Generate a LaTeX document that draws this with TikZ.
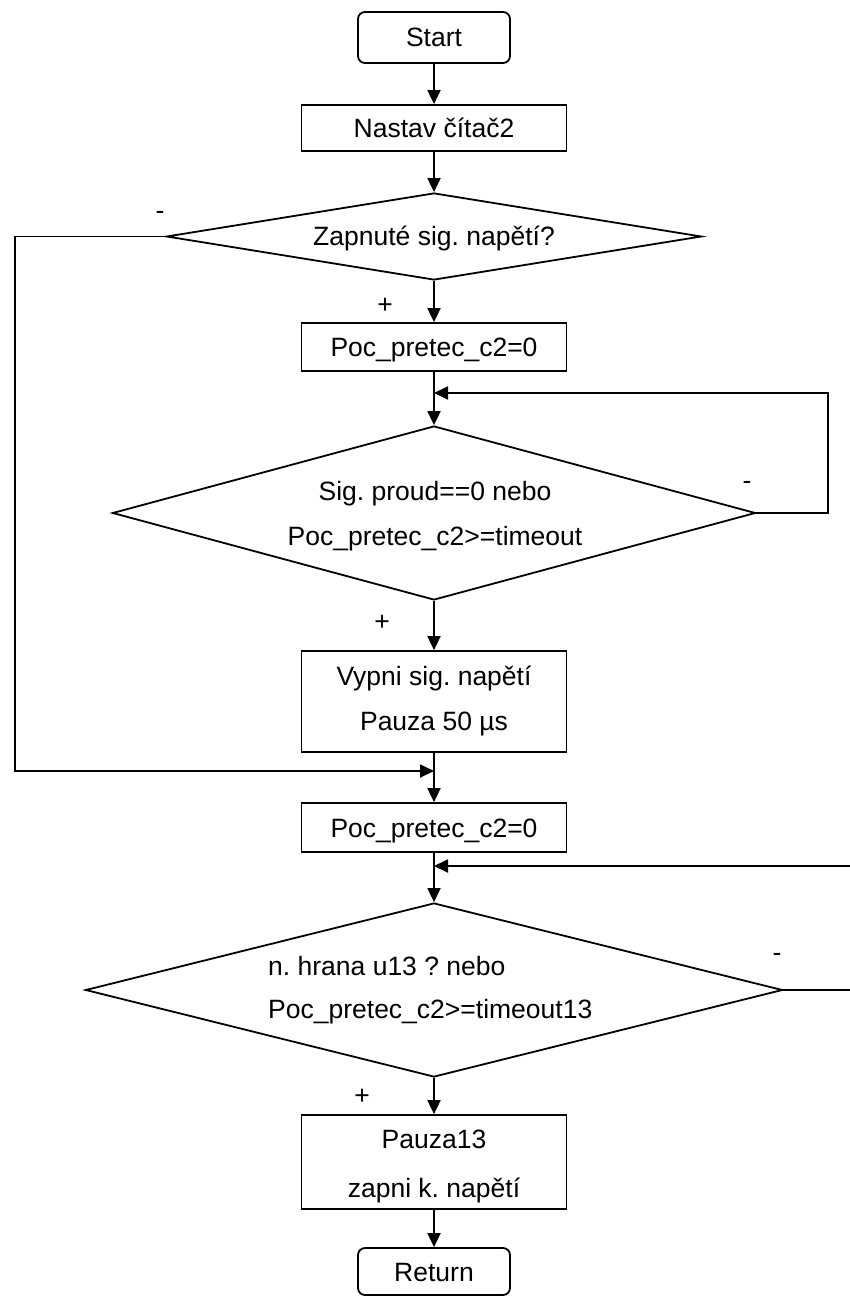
\documentclass[tikz,border=0pt]{standalone}
\usepackage{fontspec}
\setmainfont{Liberation Sans}
\usetikzlibrary{shapes.geometric,arrows.meta}
\begin{document}
\begin{tikzpicture}[x=1pt,y=-1pt,
  txt/.style={font=\fontsize{26.5}{30}\selectfont\frenchspacing, inner sep=0pt},
  boxed/.style={txt, draw, line width=1.8pt, text height=19pt, text depth=0pt},
  proc/.style={boxed, rectangle, minimum width=265pt},
  term/.style={boxed, rectangle, rounded corners=7pt, minimum width=152pt},
  cond/.style={boxed, diamond},
  flow/.style={line width=1.8pt, -{Triangle[length=14pt,width=13pt]}},
  sign/.style={txt, anchor=base},
  line/.style={txt, anchor=base}
]
% page area
\fill[white] (0,0) rectangle (850,1297);
\useasboundingbox (0,0) rectangle (850,1297);

% blocks of the flow chart
\node[term, minimum height=51pt] (start) at (434,37.5) {Start};
\node[proc, minimum height=46pt] (nastav) at (434,128) {Nastav čítač2};
\node[cond, minimum width=535pt, minimum height=87pt, aspect=6.15] (d1) at (434,236.5) {Zapnuté sig. napětí?};
\node[proc, minimum height=48pt] (poc1) at (434,347) {Poc\_pretec\_c2=0};
\node[cond, minimum width=643pt, minimum height=174pt, aspect=3.7] (d2) at (434,513) {};
\node[line] (d2a) at (435,500) {Sig. proud==0 nebo};
\node[line] (d2b) at (435,545) {Poc\_pretec\_c2>=timeout};
\node[proc, minimum height=101pt] (vypni) at (434,701.5) {};
\node[line] (vypnia) at (434,685) {Vypni sig. napětí};
\node[line] (vypnib) at (434,730) {Pauza 50 µs};
\node[proc, minimum height=49pt] (poc2) at (434,827.5) {Poc\_pretec\_c2=0};
\node[cond, minimum width=697pt, minimum height=174pt, aspect=4] (d3) at (434,990) {};
\node[line, anchor=base west] (d3a) at (268,975) {n. hrana u13 ? nebo};
\node[line, anchor=base west] (d3b) at (268,1018) {Poc\_pretec\_c2>=timeout13};
\node[proc, minimum height=94pt] (pauza) at (434,1162) {};
\node[line] (pauzaa) at (434,1148) {Pauza13};
\node[line] (pauzab) at (434,1197) {zapni k. napětí};
\node[term, minimum height=47pt] (ret) at (434,1271.5) {Return};

% branch signs
\node[sign] (d1no) at (160,219.5) {-};
\node[sign] (d1yes) at (385,313.5) {+};
\node[sign] (d2no) at (747,489.5) {-};
\node[sign] (d2yes) at (382,630) {+};
\node[sign] (d3no) at (777,961) {-};
\node[sign] (d3yes) at (362,1104) {+};

% main line
\draw[flow] (start) -- (nastav);
\draw[flow] (nastav) -- (d1);
\draw[flow] (d1) -- (poc1);
\draw[flow] (poc1) -- (d2);
\draw[flow] (d2) -- (vypni);
\draw[flow] (vypni) -- (poc2);
\draw[flow] (poc2) -- (d3);
\draw[flow] (d3) -- (pauza);
\draw[flow] (pauza) -- (ret);

% side branches and loops
\coordinate (j1) at (434,771);
\coordinate (lrail) at (15,0);
\draw[flow] (d1.west) -- (d1.west -| lrail) |- (j1);

\coordinate (j2) at (434,393);
\coordinate (rrail2) at (828,0);
\draw[flow] (d2.east) -- (d2.east -| rrail2) |- (j2);

\coordinate (j3) at (434,866);
\coordinate (rrail3) at (852,0);
\draw[flow] (d3.east) -- (d3.east -| rrail3) |- (j3);
\end{tikzpicture}
\end{document}
